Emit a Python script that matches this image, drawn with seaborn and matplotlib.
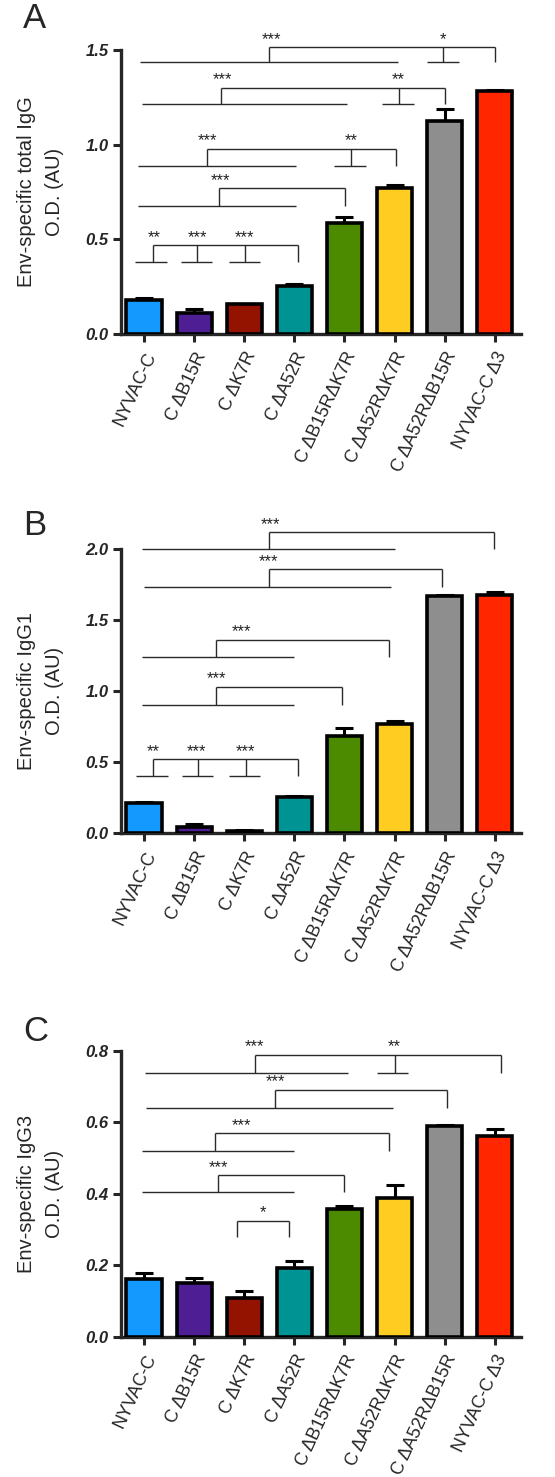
import matplotlib
matplotlib.use("Agg")
import matplotlib.pyplot as plt
import seaborn as sns
import numpy as np

# strains and bar colours (same in all three panels)
strains = ["NYVAC-C", "C ΔB15R", "C ΔK7R", "C ΔA52R",
           "C ΔB15RΔK7R", "C ΔA52RΔK7R", "C ΔA52RΔB15R", "NYVAC-C Δ3"]
bar_colors = ["#1499FF", "#4E1E94", "#931200", "#009393",
              "#4C8A00", "#FFCC22", "#8E8E8E", "#FF2600"]

# A: total IgG
igg_mean = [0.180, 0.109, 0.157, 0.254, 0.585, 0.773, 1.123, 1.285]
igg_sem = [0.012, 0.021, 0.003, 0.008, 0.031, 0.014, 0.067, 0.003]
# B: IgG1
igg1_mean = [0.211, 0.045, 0.016, 0.258, 0.687, 0.771, 1.667, 1.679]
igg1_sem = [0.009, 0.023, 0.007, 0.005, 0.052, 0.022, 0.007, 0.019]
# C: IgG3
igg3_mean = [0.161, 0.149, 0.107, 0.192, 0.357, 0.389, 0.589, 0.561]
igg3_sem = [0.016, 0.016, 0.020, 0.020, 0.010, 0.034, 0.004, 0.019]

# significance brackets: (top y, foot y, drops [(x, foot start, foot end)], labels [(x, text)])
brackets_a = [
    (1.514, 1.435, [(2.5, -0.07, 5.06), (5.96, 5.65, 6.28), (7.0, None, None)],
     [(2.55, "***"), (5.96, "*")]),
    (1.301, 1.213, [(1.54, -0.03, 4.05), (5.08, 4.75, 5.38), (6.01, None, None)],
     [(1.56, "***"), (5.08, "**")]),
    (0.977, 0.889, [(1.25, -0.11, 3.03), (4.13, 3.79, 4.42), (5.03, None, None)],
     [(1.27, "***"), (4.13, "**")]),
    (0.769, 0.678, [(1.5, -0.11, 3.03), (4.02, None, None)],
     [(1.52, "***")]),
    (0.468, 0.379, [(0.17, -0.17, 0.46), (1.06, 0.74, 1.36), (2.01, 1.69, 2.32), (3.07, None, None)],
     [(0.2, "**"), (1.06, "***"), (2.01, "***")]),
]
brackets_b = [
    (2.117, 2.0, [(2.5, -0.03, 5.0), (6.98, None, None)], [(2.52, "***")]),
    (1.857, 1.735, [(2.5, 0.0, 4.93), (5.94, None, None)], [(2.49, "***")]),
    (1.362, 1.240, [(1.43, -0.03, 3.0), (4.88, None, None)], [(1.95, "***")]),
    (1.029, 0.903, [(1.43, -0.03, 3.0), (3.96, None, None)], [(1.44, "***")]),
    (0.520, 0.406, [(0.17, -0.15, 0.47), (1.07, 0.75, 1.37), (2.03, 1.70, 2.32), (3.07, None, None)],
     [(0.18, "**"), (1.05, "***"), (2.03, "***")]),
]
brackets_c = [
    (0.788, 0.739, [(2.21, 0.03, 4.08), (5.0, 4.65, 5.27), (7.12, None, None)],
     [(2.2, "***"), (5.0, "**")]),
    (0.690, 0.641, [(2.62, 0.05, 4.97), (6.04, None, None)], [(2.62, "***")]),
    (0.569, 0.519, [(1.42, -0.03, 3.0), (4.88, None, None)], [(1.95, "***")]),
    (0.452, 0.406, [(1.47, -0.03, 3.0), (3.99, None, None)], [(1.48, "***")]),
    (0.324, 0.278, [(1.86, None, None), (2.9, None, None)], [(2.37, "*")]),
]

panels = [
    ("A", "Env-specific total IgG\nO.D. (AU)", igg_mean, igg_sem, brackets_a,
     [0.0, 0.5, 1.0, 1.5], (0.2179, 0.7739, 0.7207, 0.1923), 28),
    ("B", "Env-specific IgG1\nO.D. (AU)", igg1_mean, igg1_sem, brackets_b,
     [0.0, 0.5, 1.0, 1.5, 2.0], (0.2179, 0.4358, 0.7207, 0.1925), 535),
    ("C", "Env-specific IgG3\nO.D. (AU)", igg3_mean, igg3_sem, brackets_c,
     [0.0, 0.2, 0.4, 0.6, 0.8], (0.2179, 0.0950, 0.7207, 0.1936), 1041),
]

sns.set_style("ticks")
plt.rcParams["font.family"] = ["Liberation Sans", "DejaVu Sans"]


def draw_bracket(ax, top, low, drops, labels):
    kw = dict(color="#2a2a2a", lw=1.0, clip_on=False, solid_capstyle="butt")
    xs = [d[0] for d in drops]
    ax.plot([min(xs), max(xs)], [top, top], **kw)
    for x, f0, f1 in drops:
        ax.plot([x, x], [top, low], **kw)
        if f0 is not None:
            ax.plot([f0, f1], [low, low], **kw)
    for x, txt in labels:
        ax.annotate(txt, (x, top), xytext=(0, 2.5), textcoords="offset points",
                    ha="center", va="baseline", fontsize=12, color="#222222",
                    annotation_clip=False)


fig = plt.figure(figsize=(5.55, 14.77), dpi=100)

for letter, ylabel, means, sems, brackets, yticks, rect, letter_y in panels:
    ax = fig.add_axes(rect)
    sns.barplot(x=strains, y=means, hue=strains, palette=bar_colors, legend=False,
                width=0.7, edgecolor="black", linewidth=2.6, errorbar=None,
                saturation=1, ax=ax, zorder=3)
    ax.errorbar(np.arange(len(strains)), means,
                yerr=[np.zeros(len(sems)), sems], fmt="none", ecolor="black",
                elinewidth=2.2, capsize=6.5, capthick=2.2, zorder=2)
    for b in brackets:
        draw_bracket(ax, *b)

    ax.set_xlim(-0.46, 7.52)
    ax.set_ylim(0, yticks[-1])
    ax.set_yticks(yticks)
    ax.set_yticklabels([f"{t:.1f}" for t in yticks], fontsize=12,
                       fontweight="bold", fontstyle="italic")
    ax.set_xticks(np.arange(len(strains)))
    ax.set_xticklabels(strains, rotation=65, ha="right", rotation_mode="anchor",
                       fontsize=13)
    ax.tick_params(axis="y", length=6, width=2.2, pad=3)
    ax.tick_params(axis="x", length=6, width=2.2, pad=5)
    for side in ["left", "bottom"]:
        ax.spines[side].set_linewidth(2.4)
    sns.despine(ax=ax)
    ax.set_xlabel("")
    ax.set_ylabel("")
    ax.text(-0.2, 0.5, ylabel, transform=ax.transAxes, rotation=90,
            ha="center", va="center", fontsize=14.5, linespacing=1.6)
    fig.text(23 / 555, 1 - letter_y / 1477, letter, fontsize=25, va="baseline")

fig.savefig("out.png", dpi=100)
